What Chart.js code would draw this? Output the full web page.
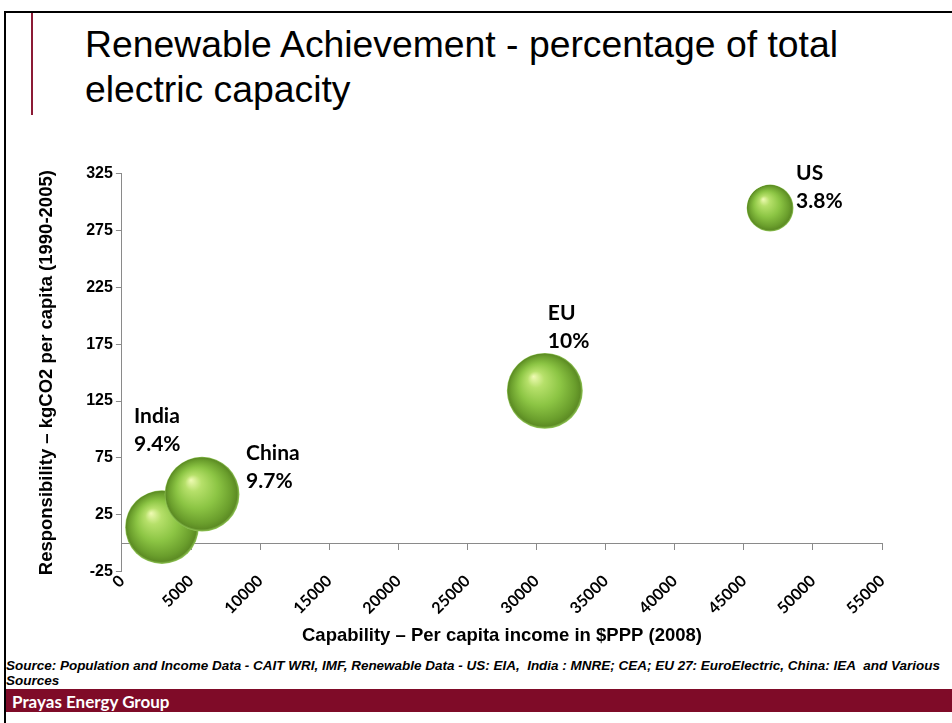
<!DOCTYPE html>
<html>
<head>
<meta charset="utf-8">
<script src="https://cdn.jsdelivr.net/npm/chart.js@4.4.0/dist/chart.umd.min.js"></script>
<style>
  html, body { margin: 0; padding: 0; background: #fff; }
  body { width: 952px; height: 723px; position: relative; overflow: hidden; font-family: "Liberation Sans", Arial, sans-serif; }
  #topline { position: absolute; left: 4px; top: 11px; width: 948px; height: 2px; background: #000; }
  #leftline { position: absolute; left: 4px; top: 11px; width: 2px; height: 712px; background: #000; }
  #accent { position: absolute; left: 31px; top: 13px; width: 2px; height: 102px; background: #8b1a35; }
  .title { position: absolute; left: 85px; font-size: 37px; line-height: 37px; white-space: nowrap; transform-origin: 0 0; color: #000; }
  .src { position: absolute; left: 6px; font-size: 12px; line-height: 12px; font-weight: bold; font-style: italic; white-space: nowrap; transform-origin: 0 0; }
  #footer { position: absolute; left: 6px; top: 689px; width: 946px; height: 23px; background: #7f0b28; }
  #footer span { position: absolute; left: 6px; top: 2px; color: #fff; font-family: Lato, sans-serif; font-weight: bold; font-size: 17px; }
  #wrap { position: absolute; left: 20px; top: 136px; width: 900px; height: 515px; }
</style>
</head>
<body>
<div id="topline"></div>
<div id="leftline"></div>
<div id="accent"></div>
<div class="title" id="t1" style="top:26px">Renewable Achievement - percentage of total</div>
<div class="title" id="t2" style="top:71px">electric capacity</div>
<div class="src" id="s1" style="top:660px">Source: Population and Income Data - CAIT WRI, IMF, Renewable Data - US: EIA,&nbsp; India : MNRE; CEA; EU 27: EuroElectric, China: IEA&nbsp; and Various</div>
<div class="src" id="s2" style="top:675px">Sources</div>
<div id="footer"><span>Prayas Energy Group</span></div>
<div id="wrap"><canvas id="chart"></canvas></div>

<script>
// regions, per capita income ($PPP 2008), kgCO2 per capita, renewable share (%)
const regions = ["India", "China", "EU", "US"];
const incomePPP = [2900, 5800, 30600, 46900];
const co2PerCapita = [14, 43, 134, 295];
const renewableShare = [9.4, 9.7, 10, 3.8];

const xTicksMax = 55000;
const yTicks = { min: -25, max: 325, step: 50 };

// squeeze title/source text to the width seen on the slide
function squeeze(id, ref) {
  const el = document.getElementById(id);
  const w = el.getBoundingClientRect().width;
  const sx = ref / w;
  el.style.transform = "scaleX(" + sx + ")";
  return sx;
}
const tsx = squeeze("t1", 753);
document.getElementById("t2").style.transform = "scaleX(" + tsx + ")";
const ssx = squeeze("s1", 934);
document.getElementById("s2").style.transform = "scaleX(" + ssx + ")";

const points = regions.map((name, i) => ({
  x: incomePPP[i],
  y: co2PerCapita[i],
  r: 12 * Math.sqrt(renewableShare[i]),
}));

function sphereFill(ctx) {
  const chart = ctx.chart;
  const p = ctx.raw;
  const sx = chart.scales && chart.scales.x;
  const sy = chart.scales && chart.scales.y;
  if (!p || !sx || !sy) return "#8cc63f";
  const cx = sx.getPixelForValue(p.x);
  const cy = sy.getPixelForValue(p.y);
  const r = p.r;
  if (!Number.isFinite(cx) || !Number.isFinite(cy) || !chart.chartArea) return "#8cc63f";
  const g = chart.ctx.createRadialGradient(cx - 0.3 * r, cy - 0.38 * r, 0, cx, cy, r);
  g.addColorStop(0, "#f0fbb4");
  g.addColorStop(0.22, "#b6e06a");
  g.addColorStop(0.55, "#8cc544");
  g.addColorStop(0.85, "#6a9e2c");
  g.addColorStop(0.95, "#5d8c24");
  g.addColorStop(1, "#94c95a");
  return g;
}

// label placement relative to each bubble centre: [dx, dy of first baseline]
const labelOffsets = [[-28, -104], [44, -34], [3, -71], [26, -28]];

const bubbleLabels = {
  id: "bubbleLabels",
  afterDatasetsDraw(chart) {
    const c = chart.ctx;
    const meta = chart.getDatasetMeta(0);
    c.save();
    c.fillStyle = "#000";
    c.font = "bold 21px Lato, sans-serif";
    c.textBaseline = "alphabetic";
    meta.data.forEach((el, i) => {
      const off = labelOffsets[i];
      c.fillText(regions[i], el.x + off[0], el.y + off[1]);
      c.fillText(renewableShare[i] + "%", el.x + off[0], el.y + off[1] + 28);
    });
    c.restore();
  },
};

new Chart(document.getElementById("chart"), {
  type: "bubble",
  data: {
    datasets: [{
      label: "Renewable share",
      data: points,
      backgroundColor: sphereFill,
      hoverBackgroundColor: sphereFill,
      borderWidth: 0,
      hoverBorderWidth: 0,
    }],
  },
  plugins: [bubbleLabels],
  options: {
    responsive: true,
    maintainAspectRatio: false,
    animation: false,
    events: [],
    layout: { padding: { top: 10, right: 36, bottom: 0, left: 16 } },
    plugins: { legend: { display: false }, tooltip: { enabled: false } },
    scales: {
      x: {
        type: "linear",
        position: "bottom",
        min: 0,
        max: xTicksMax,
        border: { display: false },
        grid: { display: false, drawTicks: false },
        ticks: {
          stepSize: 5000,
          minRotation: 45,
          maxRotation: 45,
          padding: 0,
          color: "#000",
          font: { family: "Lato", size: 16, weight: "bold" },
          callback: (v) => String(v),
        },
        title: {
          display: true,
          text: "Capability – Per capita income in $PPP (2008)",
          color: "#000",
          font: { family: "Liberation Sans", size: 18.5, weight: "bold" },
          padding: { top: 7, bottom: 4 },
        },
      },
      x2: {
        type: "linear",
        axis: "x",
        position: { y: 0 },
        min: 0,
        max: xTicksMax,
        border: { color: "#8a8a8a", width: 1 },
        grid: { drawOnChartArea: false, color: "#8a8a8a", tickLength: 6 },
        ticks: { stepSize: 5000, display: false },
      },
      y: {
        type: "linear",
        min: yTicks.min,
        max: yTicks.max,
        border: { color: "#8a8a8a", width: 1 },
        grid: { drawOnChartArea: false, color: "#8a8a8a", tickLength: 6 },
        ticks: {
          stepSize: yTicks.step,
          padding: 3,
          color: "#000",
          font: { family: "Liberation Sans", size: 16, weight: "bold" },
        },
        title: {
          display: true,
          text: "Responsibility – kgCO2 per capita (1990-2005)",
          color: "#000",
          font: { family: "Liberation Sans", size: 18.5, weight: "bold" },
          padding: { top: 0, bottom: 25 },
        },
      },
    },
  },
});
</script>
</body>
</html>
